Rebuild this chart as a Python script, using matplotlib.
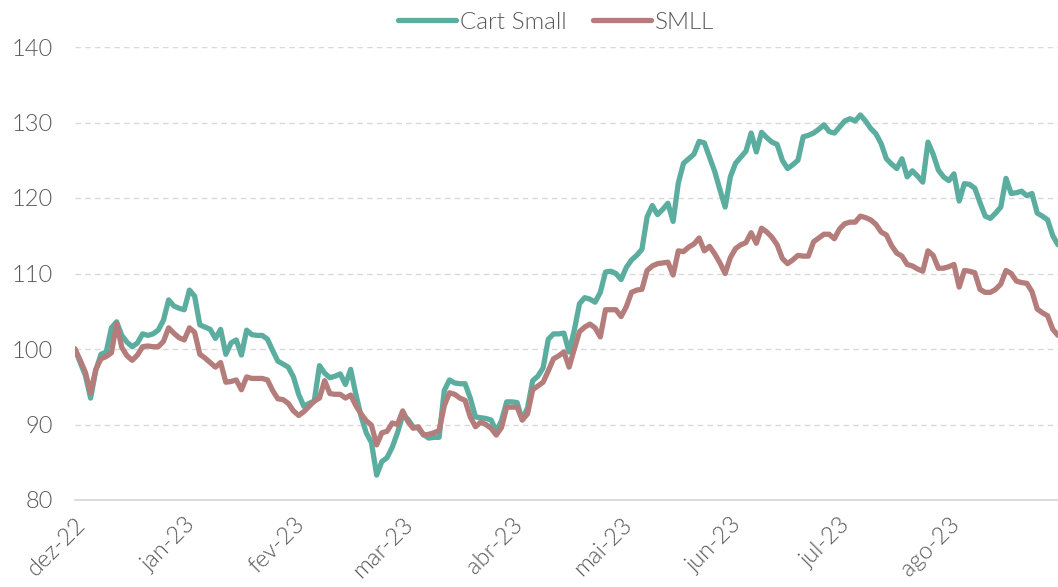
import matplotlib
matplotlib.use("Agg")
import matplotlib.pyplot as plt
import numpy as np

# ---- data (index base 100, business days Dec-22 .. Aug-23) ----
cart_small = [
    100.0, 98.2, 96.5, 93.5, 97.2, 99.3, 99.6, 102.8, 103.6, 101.8,
    100.9, 100.3, 100.8, 102.0, 101.8, 102.0, 102.5, 103.8, 106.5, 105.7,
    105.4, 105.2, 107.8, 107.0, 103.2, 102.9, 102.6, 101.4, 102.6, 99.3,
    100.8, 101.2, 99.2, 102.5, 101.9, 101.8, 101.8, 101.3, 99.8, 98.4,
    98.0, 97.6, 96.3, 94.0, 92.4, 92.8, 93.1, 97.8, 96.8, 96.2,
    96.4, 96.7, 95.3, 97.3, 94.0, 91.1, 88.9, 87.6, 83.3, 85.1,
    85.6, 87.0, 88.9, 91.2, 90.7, 89.7, 89.5, 88.7, 88.2, 88.3,
    88.3, 94.5, 95.9, 95.5, 95.4, 95.4, 93.5, 91.0, 90.9, 90.8,
    90.6, 89.1, 90.5, 93.0, 93.0, 92.9, 90.6, 92.2, 95.8, 96.4,
    97.5, 101.3, 102.0, 102.0, 102.1, 99.6, 102.5, 106.0, 106.8, 106.6,
    106.2, 107.5, 110.2, 110.3, 110.0, 109.2, 110.8, 111.8, 112.4, 113.2,
    117.5, 119.0, 117.8, 118.5, 119.3, 116.9, 122.0, 124.6, 125.2, 125.8,
    127.5, 127.3, 125.4, 123.5, 121.1, 118.8, 122.8, 124.6, 125.4, 126.2,
    128.6, 126.1, 128.7, 128.0, 127.4, 127.1, 125.0, 123.9, 124.4, 125.0,
    128.1, 128.3, 128.6, 129.1, 129.7, 128.8, 128.6, 129.4, 130.2, 130.5,
    130.2, 131.0, 130.2, 129.2, 128.5, 127.2, 125.2, 124.5, 123.9, 125.2,
    122.8, 123.6, 122.9, 122.1, 127.4, 125.8, 123.7, 122.8, 122.3, 123.2,
    119.6, 121.9, 121.8, 121.3, 119.4, 117.6, 117.3, 118.0, 118.8, 122.6,
    120.6, 120.7, 120.9, 120.3, 120.6, 118.0, 117.6, 117.1, 115.0, 113.8,
]

smll = [
    100.0, 98.5, 96.9, 94.2, 97.3, 98.7, 99.0, 99.5, 103.4, 100.2,
    99.1, 98.5, 99.2, 100.3, 100.4, 100.3, 100.3, 101.0, 102.8, 102.1,
    101.5, 101.2, 102.8, 102.2, 99.3, 98.8, 98.2, 97.6, 98.2, 95.6,
    95.7, 95.9, 94.6, 96.3, 96.1, 96.1, 96.1, 95.9, 94.5, 93.4,
    93.3, 92.8, 91.8, 91.2, 91.7, 92.4, 93.1, 93.5, 95.8, 94.1,
    94.0, 94.0, 93.5, 93.9, 92.5, 91.4, 90.5, 89.9, 87.3, 88.9,
    89.1, 90.2, 90.0, 91.8, 90.4, 89.5, 89.7, 88.6, 88.7, 88.9,
    89.2, 92.5, 94.2, 94.0, 93.5, 93.2, 91.0, 89.7, 90.3, 90.0,
    89.5, 88.6, 89.6, 92.3, 92.3, 92.3, 90.6, 91.4, 94.6, 95.1,
    95.6, 97.1, 98.7, 99.1, 99.6, 97.6, 100.0, 102.3, 102.9, 103.3,
    102.8, 101.6, 105.2, 105.2, 105.2, 104.3, 105.6, 107.5, 107.8, 107.9,
    110.4, 111.0, 111.3, 111.4, 111.5, 109.8, 113.0, 112.9, 113.5, 113.9,
    114.7, 113.0, 113.6, 112.6, 111.4, 110.0, 112.1, 113.3, 113.8, 114.1,
    115.4, 114.0, 116.0, 115.5, 114.8, 113.8, 112.0, 111.3, 111.8, 112.4,
    112.3, 112.3, 114.2, 114.7, 115.2, 115.2, 114.6, 115.9, 116.6, 116.8,
    116.8, 117.6, 117.4, 117.1, 116.5, 115.5, 115.1, 113.7, 112.7, 112.3,
    111.2, 111.0, 110.6, 110.3, 113.0, 112.4, 110.7, 110.7, 110.9, 111.2,
    108.2, 110.4, 110.3, 110.1, 107.9, 107.5, 107.5, 107.9, 108.6, 110.4,
    110.0, 109.0, 108.8, 108.7, 107.6, 105.3, 104.8, 104.4, 102.6, 101.8,
]

month_labels = ["dez-22", "jan-23", "fev-23", "mar-23", "abr-23",
                "mai-23", "jun-23", "jul-23", "ago-23"]
points_per_label = 21
y_ticks = [80, 90, 100, 110, 120, 130, 140]

series_names = ["Cart Small", "SMLL"]
series_colors = ["#5BAE9F", "#B47C7A"]

# ---- figure ----
plt.rcParams["font.family"] = ["Lato", "DejaVu Sans"]
fig = plt.figure(figsize=(10.58, 5.87), dpi=100)
ax = fig.add_axes([75 / 1058, (587 - 500) / 587, (1058 - 75) / 1058, (500 - 47) / 587])

x = np.arange(len(cart_small))
for vals, name, col in zip([cart_small, smll], series_names, series_colors):
    ax.plot(x, vals, color=col, lw=3.8, label=name, solid_joinstyle="round",
            solid_capstyle="round")

ax.set_xlim(0, len(cart_small) - 1)
ax.set_ylim(80, 140)
ax.set_yticks(y_ticks)
ax.set_xticks(np.arange(len(month_labels)) * points_per_label)
ax.set_xticklabels(month_labels, rotation=45, ha="right", va="top",
                   rotation_mode="anchor")

label_color = "#595959"
ax.tick_params(axis="y", length=0, pad=16, labelsize=17, labelcolor=label_color)
ax.tick_params(axis="x", length=0, pad=10, labelsize=17, labelcolor=label_color)
for lab in ax.get_xticklabels() + ax.get_yticklabels():
    lab.set_fontweight(300)

for s in ["top", "right", "left"]:
    ax.spines[s].set_visible(False)
ax.spines["bottom"].set_color("#D9D9D9")
ax.spines["bottom"].set_linewidth(1.3)

ax.yaxis.grid(True, color="#D9D9D9", linestyle=(0, (4, 3)), linewidth=1.0)
ax.set_axisbelow(True)
for gl in ax.yaxis.get_gridlines()[:1]:
    gl.set_visible(False)

leg = fig.legend(loc="center", bbox_to_anchor=(556 / 1058, 1 - 22 / 587),
                 ncol=2, frameon=False, prop={"size": 17.5, "weight": 300},
                 handlelength=2.4, handletextpad=0.15, columnspacing=1.1)
for t in leg.get_texts():
    t.set_color(label_color)

fig.savefig("out.png", dpi=100)
